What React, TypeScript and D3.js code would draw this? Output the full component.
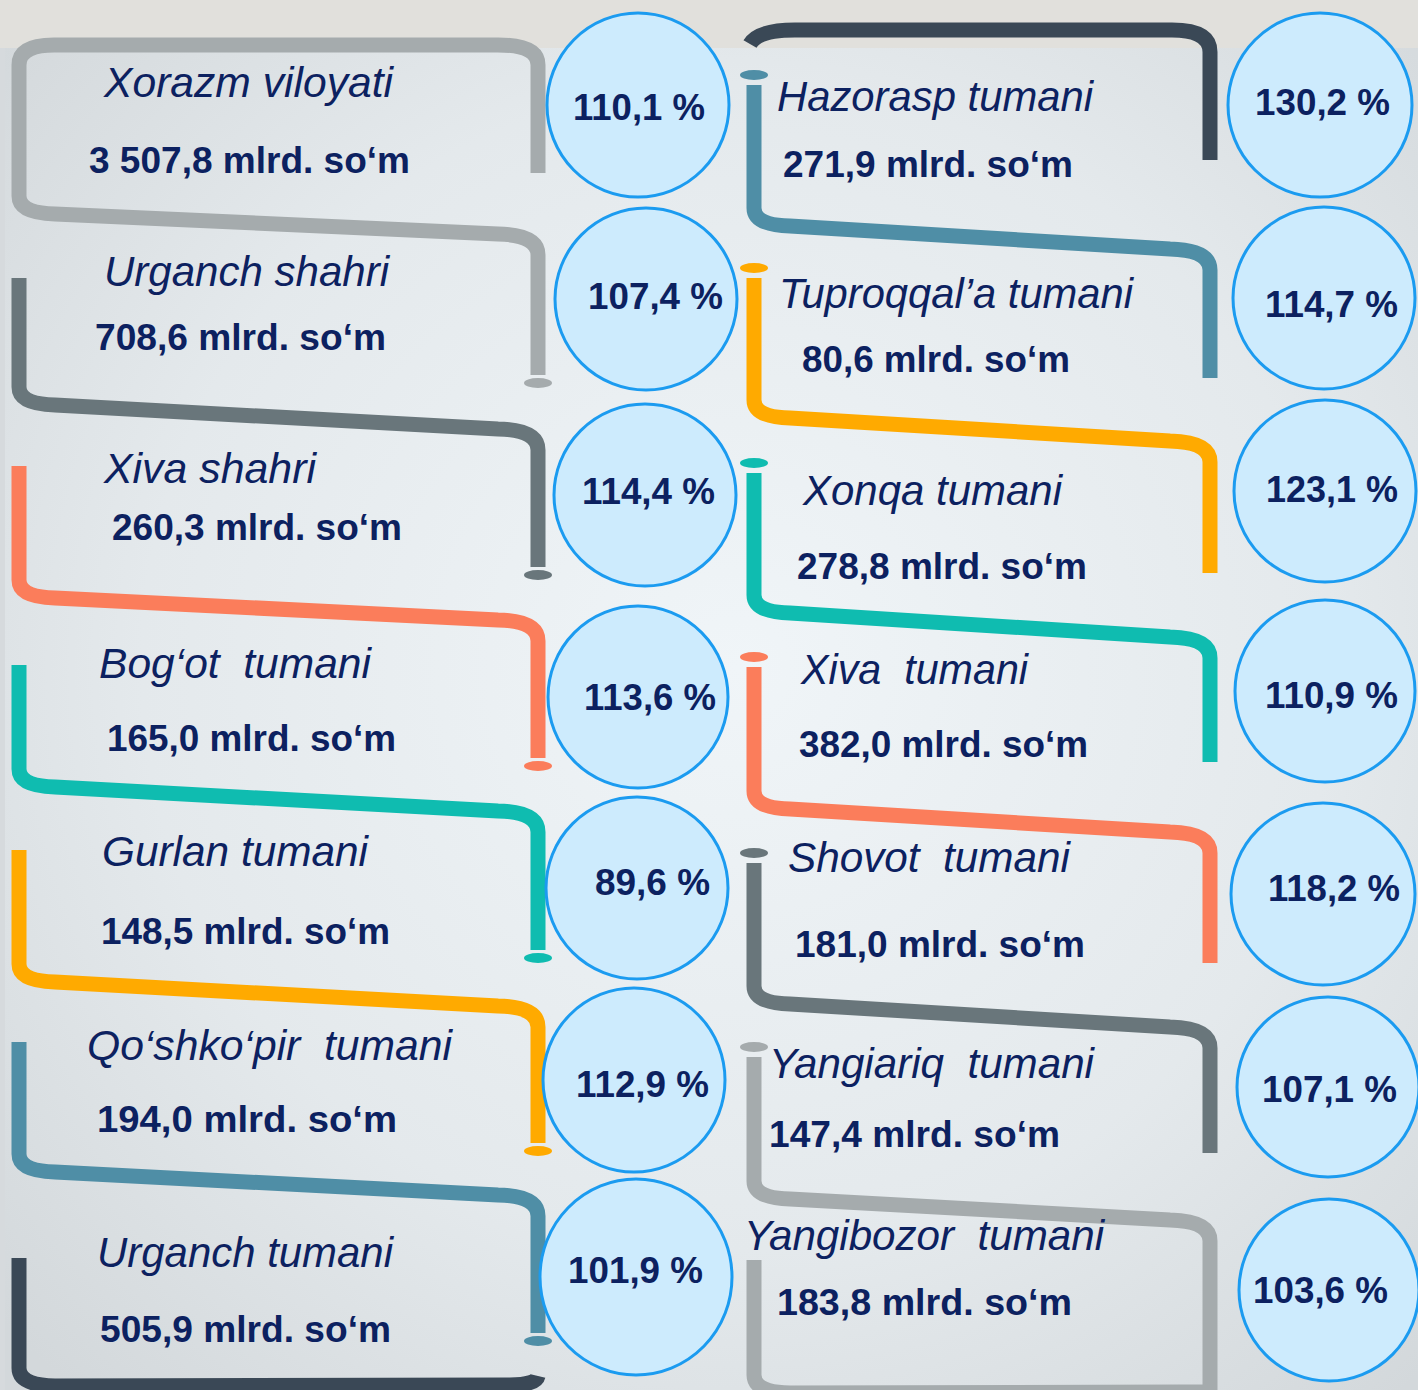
import * as d3 from "d3";

// ---- data ----
const leftNames = [
  "Xorazm viloyati",
  "Urganch shahri",
  "Xiva shahri",
  "Bog‘ot  tumani",
  "Gurlan tumani",
  "Qo‘shko‘pir  tumani",
  "Urganch tumani",
];
const leftValues = [3507.8, 708.6, 260.3, 165.0, 148.5, 194.0, 505.9];
const leftPercents = [110.1, 107.4, 114.4, 113.6, 89.6, 112.9, 101.9];

const rightNames = [
  "Hazorasp tumani",
  "Tuproqqal’a tumani",
  "Xonqa tumani",
  "Xiva  tumani",
  "Shovot  tumani",
  "Yangiariq  tumani",
  "Yangibozor  tumani",
];
const rightValues = [271.9, 80.6, 278.8, 382.0, 181.0, 147.4, 183.8];
const rightPercents = [130.2, 114.7, 123.1, 110.9, 118.2, 107.1, 103.6];

// ---- styles ----
const COLORS = {
  lightGray: "#a5abad",
  darkGray: "#69767b",
  coral: "#fb7d5b",
  teal: "#0fbcb0",
  orange: "#ffaa00",
  steel: "#4f8ea6",
  slate: "#3a4856",
  text: "#0c2160",
  circleFill: "#cdebfd",
  circleStroke: "#1b9bf0",
};
const leftColors = [COLORS.lightGray, COLORS.darkGray, COLORS.coral, COLORS.teal, COLORS.orange, COLORS.steel, COLORS.slate];
const rightColors = [COLORS.steel, COLORS.orange, COLORS.teal, COLORS.coral, COLORS.darkGray, COLORS.lightGray, COLORS.lightGray];

const W = 1418;
const H = 1390;
const FONT = "'Liberation Sans', Arial, Helvetica, sans-serif";

// ---- layout ----
// circles: cx, cy, rx, ry
const leftCircles = [
  [638, 105, 91, 92], [646, 299, 91, 91], [645, 495, 91, 91], [638, 697, 90, 91],
  [637, 888, 91, 91], [634, 1080, 91, 92], [636, 1277, 96, 98],
];
const rightCircles = [
  [1320, 105, 92, 92], [1324, 298, 91, 91], [1325, 491, 91, 91], [1325, 691, 90, 91],
  [1323, 894, 92, 91], [1328, 1087, 91, 90], [1329, 1290, 90, 91],
];
// text boxes: x, baseline, width
const leftNameBox = [[104, 97, 289], [104, 286, 285], [104, 483, 212], [99, 678, 272], [102, 866, 266], [87, 1060, 365], [97, 1267, 296]];
const leftValueBox = [[89, 173, 321], [95, 350, 291], [112, 540, 290], [107, 751, 289], [101, 944, 289], [97, 1132, 300], [100, 1342, 291]];
const leftPctBox = [[573, 120, 132], [588, 309, 135], [582, 504, 133], [584, 710, 132], [595, 895, 115], [576, 1097, 133], [568, 1283, 135]];
const rightNameBox = [[777, 111, 316], [779, 308, 354], [803, 505, 259], [801, 684, 227], [788, 872, 282], [769, 1078, 325], [744, 1250, 360]];
const rightValueBox = [[783, 177, 290], [802, 372, 268], [797, 579, 290], [799, 757, 289], [795, 957, 290], [769, 1147, 291], [777, 1315, 295]];
const rightPctBox = [[1255, 115, 135], [1265, 317, 133], [1266, 502, 132], [1265, 708, 133], [1268, 901, 132], [1262, 1102, 135], [1253, 1303, 135]];

// connectors: start, bend at left, bend at right, end
const leftConn = [
  { start: 173, bendL: 213, bendR: 235, end: 375 },
  { start: 278, bendL: 404, bendR: 430, end: 567 },
  { start: 466, bendL: 597, bendR: 621, end: 758 },
  { start: 665, bendL: 786, bendR: 812, end: 950 },
  { start: 850, bendL: 981, bendR: 1007, end: 1143 },
  { start: 1042, bendL: 1171, bendR: 1196, end: 1333 },
  { start: 1258, bendL: 1385, bendR: 1385, end: 1376 },
];
const rightConn = [
  { start: 85, bendL: 225, bendR: 250, end: 378 },
  { start: 278, bendL: 417, bendR: 442, end: 573 },
  { start: 473, bendL: 612, bendR: 638, end: 762 },
  { start: 667, bendL: 808, bendR: 833, end: 963 },
  { start: 863, bendL: 1003, bendR: 1028, end: 1153 },
  { start: 1057, bendL: 1198, bendR: 1221, end: 1400 },
  { start: 1260, bendL: 1392, bendR: 1392, end: 1392 },
];

const LX = { left: 19, right: 538 };
const RX = { left: 754, right: 1210 };
const TOP_LEFT_Y = 45;
const TOP_RIGHT_Y = 30;

const uz = d3.formatLocale({ decimal: ",", thousands: " ", grouping: [3], currency: ["", ""] });
const fmtValue = uz.format(",.1f");
const fmtPct = (v: number) => `${uz.format(".1f")(v)} %`;

// bent connector: down the left bar, across, down the right bar
function connectorPath(c: any, xL: number, xR: number, opts: { topY?: number; bottom?: boolean } = {}) {
  const p = d3.path();
  if (opts.topY !== undefined) {
    const t = opts.topY;
    p.moveTo(xR, c.start);
    p.lineTo(xR, t + 20);
    p.quadraticCurveTo(xR, t, xR - 40, t);
    p.lineTo(xL + 35, t);
    p.quadraticCurveTo(xL, t, xL, t + 20);
  } else {
    p.moveTo(xL, c.start);
  }
  p.lineTo(xL, c.bendL - 17);
  p.quadraticCurveTo(xL, c.bendL, xL + 36, c.bendL + 1);
  if (opts.bottom) {
    p.lineTo(xR - 28, c.bendR);
    p.quadraticCurveTo(xR - 2, c.bendR, xR, c.end);
    return p.toString();
  }
  p.lineTo(xR - 40, c.bendR - 1);
  p.quadraticCurveTo(xR, c.bendR, xR, c.bendR + 20);
  p.lineTo(xR, c.end);
  return p.toString();
}

function topRightBracket() {
  const p = d3.path();
  p.moveTo(750, 44);
  p.quadraticCurveTo(758, TOP_RIGHT_Y, 795, TOP_RIGHT_Y);
  p.lineTo(RX.right - 38, TOP_RIGHT_Y);
  p.quadraticCurveTo(RX.right, TOP_RIGHT_Y, RX.right, TOP_RIGHT_Y + 22);
  p.lineTo(RX.right, 160);
  return p.toString();
}

function TextFit({ box, children, italic, bold, size }: any) {
  const [x, y, w] = box;
  return (
    <text
      x={x}
      y={y}
      textLength={w}
      lengthAdjust="spacingAndGlyphs"
      fontFamily={FONT}
      fontSize={size}
      fontStyle={italic ? "italic" : "normal"}
      fontWeight={bold ? "bold" : "normal"}
      fill={COLORS.text}
      style={{ whiteSpace: "pre" }}
    >
      {children}
    </text>
  );
}

function Column({ names, values, pcts, colors, circles, nameBox, valueBox, pctBox, conns, xs, side }: any) {
  return (
    <g>
      {conns.map((c: any, i: number) => {
        const isLeft = side === "left";
        const opts: any = {};
        if (isLeft && i === 0) opts.topY = TOP_LEFT_Y;
        if (i === 6) opts.bottom = true;
        const capY = isLeft ? c.end + 8 : c.start - 10;
        const capX = isLeft ? xs.right : xs.left;
        const hasCap = isLeft ? i < 6 : i < 6;
        return (
          <g key={i}>
            <path d={connectorPath(c, xs.left, xs.right, opts)} fill="none" stroke={colors[i]} strokeWidth={15} />
            {hasCap && <ellipse cx={capX} cy={capY} rx={14} ry={5} fill={colors[i]} />}
          </g>
        );
      })}
      {circles.map((c: number[], i: number) => (
        <ellipse key={i} cx={c[0]} cy={c[1]} rx={c[2]} ry={c[3]} fill={COLORS.circleFill} stroke={COLORS.circleStroke} strokeWidth={3} />
      ))}
      {names.map((n: string, i: number) => (
        <TextFit key={"n" + i} box={nameBox[i]} italic size={42}>{n}</TextFit>
      ))}
      {values.map((v: number, i: number) => (
        <TextFit key={"v" + i} box={valueBox[i]} bold size={36}>{`${fmtValue(v)} mlrd. so‘m`}</TextFit>
      ))}
      {pcts.map((v: number, i: number) => (
        <TextFit key={"p" + i} box={pctBox[i]} bold size={36}>{fmtPct(v)}</TextFit>
      ))}
    </g>
  );
}

export default function App() {
  return (
    <svg width={W} height={H} style={{ position: "absolute", left: 0, top: 0, display: "block" }}>
      <defs>
        <radialGradient id="bg" cx="52%" cy="48%" r="70%">
          <stop offset="0%" stopColor="#f0f5f8" />
          <stop offset="60%" stopColor="#e4e9ec" />
          <stop offset="100%" stopColor="#d3d8db" />
        </radialGradient>
      </defs>
      <rect x={0} y={0} width={W} height={H} fill="url(#bg)" />
      <rect x={0} y={0} width={W} height={48} fill="#e1e0dc" />
      <rect x={0} y={48} width={5} height={H - 48} fill="#d6dadd" />
      <path d={topRightBracket()} fill="none" stroke={COLORS.slate} strokeWidth={15} />
      <Column
        side="left"
        names={leftNames}
        values={leftValues}
        pcts={leftPercents}
        colors={leftColors}
        circles={leftCircles}
        nameBox={leftNameBox}
        valueBox={leftValueBox}
        pctBox={leftPctBox}
        conns={leftConn}
        xs={LX}
      />
      <Column
        side="right"
        names={rightNames}
        values={rightValues}
        pcts={rightPercents}
        colors={rightColors}
        circles={rightCircles}
        nameBox={rightNameBox}
        valueBox={rightValueBox}
        pctBox={rightPctBox}
        conns={rightConn}
        xs={RX}
      />
    </svg>
  );
}
